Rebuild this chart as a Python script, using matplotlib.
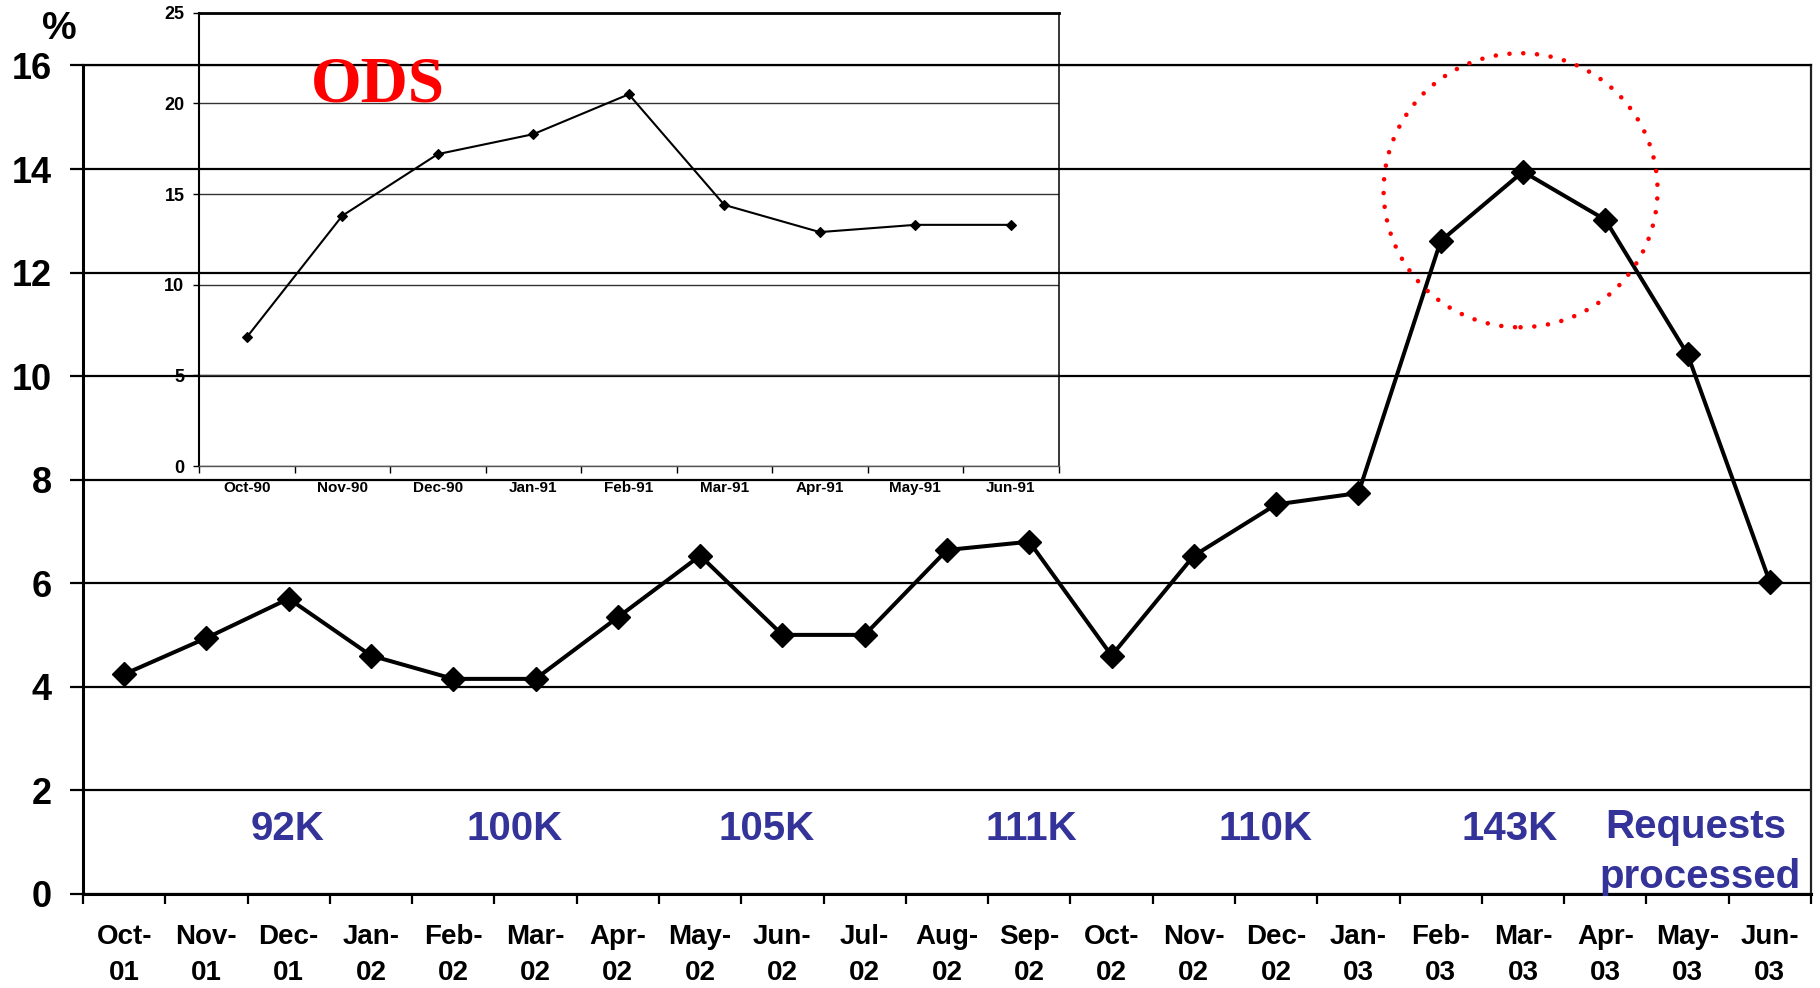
import matplotlib
matplotlib.use('Agg')
import matplotlib.pyplot as plt
from matplotlib.patches import Ellipse
from matplotlib.ticker import FixedLocator

plt.rcParams['font.family'] = ['Liberation Sans', 'DejaVu Sans']
plt.rcParams['font.weight'] = 'bold'

# ---- data ----
months = ['Oct-\n01', 'Nov-\n01', 'Dec-\n01', 'Jan-\n02', 'Feb-\n02', 'Mar-\n02', 'Apr-\n02',
          'May-\n02', 'Jun-\n02', 'Jul-\n02', 'Aug-\n02', 'Sep-\n02', 'Oct-\n02', 'Nov-\n02',
          'Dec-\n02', 'Jan-\n03', 'Feb-\n03', 'Mar-\n03', 'Apr-\n03', 'May-\n03', 'Jun-\n03']
rates = [4.24, 4.94, 5.70, 4.60, 4.15, 4.15, 5.34, 6.53, 5.00, 5.00, 6.64, 6.80,
         4.60, 6.53, 7.52, 7.74, 12.61, 13.95, 13.02, 10.42, 6.02]
y_ticks = [0, 2, 4, 6, 8, 10, 12, 14, 16]

inset_months = ['Oct-90', 'Nov-90', 'Dec-90', 'Jan-91', 'Feb-91', 'Mar-91', 'Apr-91', 'May-91', 'Jun-91']
inset_rates = [7.1, 13.8, 17.2, 18.3, 20.5, 14.4, 12.9, 13.3, 13.3]
inset_y_ticks = [0, 5, 10, 15, 20, 25]

volume_labels = ['92K', '100K', '105K', '111K', '110K', '143K', 'Requests\nprocessed']

# ---- layout (positions only) ----
volume_x = [1.99, 4.75, 7.81, 11.03, 13.87, 16.84, 19.1]
volume_baseline = 1.04
BLUE = '#333399'

fig = plt.figure(figsize=(18.2, 9.88), dpi=100)
W, H = 1820, 988
ax = fig.add_axes([83 / W, 1 - 893.7 / H, (1811 - 83) / W, (893.7 - 65.5) / H])

n = len(months)
x = list(range(n))
ax.plot(x, rates, color='black', lw=2.9, marker='D', ms=12.5, mec='black', mew=1, zorder=5,
        solid_joinstyle='miter')
ax.set_xlim(-0.5, n - 0.5)
ax.set_ylim(0, 16)

ax.xaxis.set_major_locator(FixedLocator(x))
ax.set_xticklabels(months, fontsize=20, fontweight='bold', linespacing=1.5)
ax.xaxis.set_minor_locator(FixedLocator([i - 0.5 for i in range(n + 1)]))
ax.tick_params(axis='x', which='major', length=0, pad=22)
ax.tick_params(axis='x', which='minor', length=7.5, width=1.6, direction='out', color='black')

ax.set_yticks(y_ticks)
ax.set_yticklabels([str(v) for v in y_ticks], fontsize=26, fontweight='bold')
ax.tick_params(axis='y', which='major', length=9.4, width=1.6, pad=13, direction='out')

ax.yaxis.grid(True, color='black', lw=1.6)
ax.set_axisbelow(True)
for side in ['left', 'bottom']:
    ax.spines[side].set_linewidth(2.2)
ax.spines['top'].set_linewidth(1.6)
ax.spines['right'].set_linewidth(1.6)
ax.spines['right'].set_color('#222222')

for lab, xp in zip(volume_labels, volume_x):
    parts = lab.split('\n')
    if len(parts) == 1:
        ax.text(xp, volume_baseline, lab, color=BLUE, fontsize=29, fontweight='bold',
                ha='center', va='baseline')
    else:
        ax.text(xp, volume_baseline + 0.03, parts[0], color=BLUE, fontsize=29, fontweight='bold',
                ha='center', va='baseline')
        ax.text(xp + 0.05, 0.11, parts[1], color=BLUE, fontsize=29, fontweight='bold',
                ha='center', va='baseline', zorder=6)

# highlight circle around the peak
circ = Ellipse((16.97, 13.59), width=2 * 137 / 82.3, height=2 * 137 / 51.75, fill=False,
               edgecolor='red', lw=3.3, linestyle=(0, (0.01, 3.0)), clip_on=False, zorder=6)
circ.set_capstyle('round')
ax.add_patch(circ)

fig.text(59.5 / W, 1 - 29 / H, '%', fontsize=28, fontweight='bold', ha='center', va='center')

# ---- inset ----
ix = fig.add_axes([199 / W, 1 - 466 / H, (1058.6 - 199) / W, (466 - 12.7) / H])
ix.set_facecolor('none')
m = len(inset_months)
ix.plot(range(m), inset_rates, color='black', lw=1.5, marker='D', ms=5.4, mec='black', mew=0.8)
ix.set_xlim(-0.5, m - 0.5)
ix.set_ylim(0, 25)
ix.xaxis.set_major_locator(FixedLocator(list(range(m))))
ix.set_xticklabels(inset_months, fontsize=11, fontweight='bold')
ix.xaxis.set_minor_locator(FixedLocator([i - 0.5 for i in range(m + 1)]))
ix.tick_params(axis='x', which='major', length=0, pad=11)
ix.tick_params(axis='x', which='minor', length=5, width=1.0, direction='out')
ix.set_yticks(inset_y_ticks)
ix.set_yticklabels([str(v) for v in inset_y_ticks], fontsize=13, fontweight='bold')
ix.tick_params(axis='y', length=4.5, width=1.0, pad=6, direction='out')
ix.yaxis.grid(True, color='#333333', lw=1.0)
ix.set_axisbelow(True)
ix.spines['left'].set_linewidth(1.5)
ix.spines['top'].set_linewidth(2.0)
ix.spines['right'].set_linewidth(1.1)
ix.spines['bottom'].set_linewidth(1.0)
ix.spines['bottom'].set_color('#555555')

fig.text(378 / W, 1 - 86 / H, 'ODS', fontsize=47, fontweight='bold',
         color='#ff0000', family=['Liberation Serif', 'DejaVu Serif'], ha='center', va='center')

fig.savefig('out.png', dpi=100)
